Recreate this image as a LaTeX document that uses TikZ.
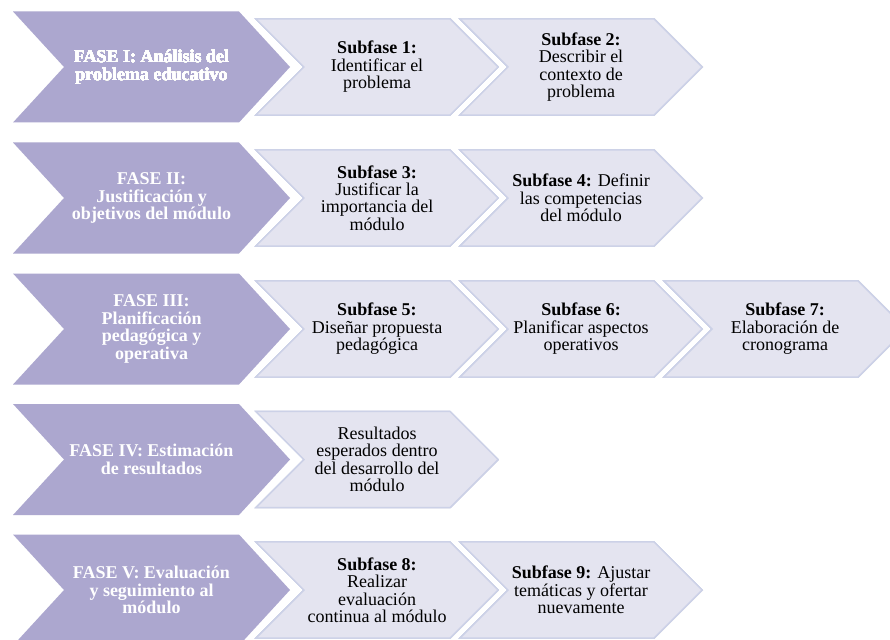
\documentclass[tikz,border=0pt]{standalone}
\usepackage{fontspec}
\setmainfont{Liberation Serif}
\definecolor{fasefill}{RGB}{172,167,207}
\definecolor{subfill}{RGB}{228,228,240}
\definecolor{subline}{RGB}{204,209,231}
% chevron: style, left x, mid y, width, height, point depth
\newcommand{\chev}[6]{\path[#1] (#2,{#3-#5/2}) -- ({#2+#4-#6},{#3-#5/2}) -- ({#2+#4},#3)
  -- ({#2+#4-#6},{#3+#5/2}) -- (#2,{#3+#5/2}) -- ({#2+#6},#3) -- cycle;}
\begin{document}
\begin{tikzpicture}[x=1pt,y=-1pt,
    fasebox/.style={fill=fasefill},
    subbox/.style={fill=subfill,draw=subline,line width=1.4pt,line join=miter},
    fasetxt/.style={text=white,align=center,inner sep=0pt,font=\bfseries\fontsize{18}{17.5}\selectfont},
    subtxt/.style={text=black,align=center,inner sep=0pt,font=\fontsize{18}{17.5}\selectfont}]
  \clip (0,0) rectangle (890,639);
  \fill[white] (0,0) rectangle (890,639);
  % phases
  \foreach \y in {67,198,329,459.5,590}
    \chev{fasebox}{13}{\y}{277}{111}{51}
  % subphases
  \foreach \x/\y in {256/67,460/67,256/198,460/198,256/329,460/329,664/329,256/459.5,256/590,460/590}
    \chev{subbox}{\x}{\y}{242}{96}{48}
  \node[fasetxt] (f1) at (151.5,67) {FASE I: Análisis del\\problema educativo};
  \node[fasetxt] (f2) at (151.5,198) {FASE II:\\Justificación y\\objetivos del módulo};
  \node[fasetxt] (f3) at (151.5,329) {FASE III:\\Planificación\\pedagógica y\\operativa};
  \node[fasetxt] (f4) at (151.5,459.5) {FASE IV: Estimación\\de resultados};
  \node[fasetxt] (f5) at (151.5,590) {FASE V: Evaluación\\y seguimiento al\\módulo};
  \node[subtxt] (s1) at (377,67) {\textbf{Subfase 1:}\\Identificar el\\problema};
  \node[subtxt] (s2) at (581,67) {\textbf{Subfase 2:}\\Describir el\\contexto de\\problema};
  \node[subtxt] (s3) at (377,198) {\textbf{Subfase 3:}\\Justificar la\\importancia del\\módulo};
  \node[subtxt] (s4) at (581,198) {\textbf{Subfase 4:} Definir\\las competencias\\del módulo};
  \node[subtxt] (s5) at (377,329) {\textbf{Subfase 5:}\\Diseñar propuesta\\pedagógica};
  \node[subtxt] (s6) at (581,329) {\textbf{Subfase 6:}\\Planificar aspectos\\operativos};
  \node[subtxt] (s7) at (785,329) {\textbf{Subfase 7:}\\Elaboración de\\cronograma};
  \node[subtxt] (r4) at (377,459.5) {Resultados\\esperados dentro\\del desarrollo del\\módulo};
  \node[subtxt] (s8) at (377,590) {\textbf{Subfase 8:}\\Realizar\\evaluación\\continua al módulo};
  \node[subtxt] (s9) at (581,590) {\textbf{Subfase 9:} Ajustar\\temáticas y ofertar\\nuevamente};
\end{tikzpicture}
\end{document}
